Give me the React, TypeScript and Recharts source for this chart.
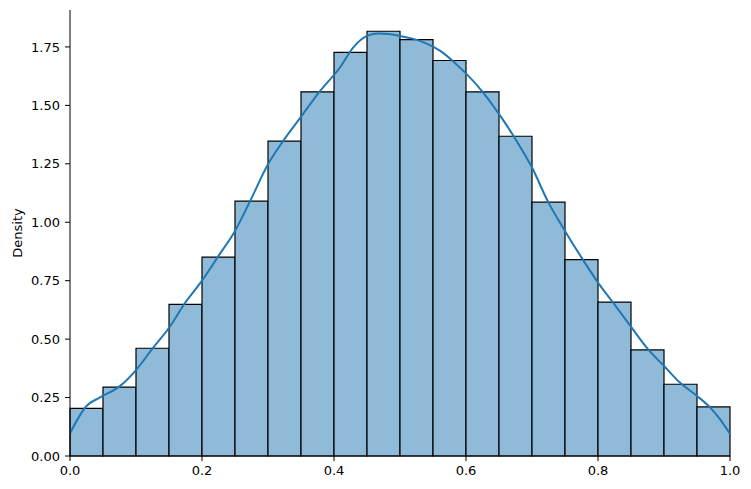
import React from "react";
import { ComposedChart, Line, XAxis, YAxis, ReferenceArea, Label } from "recharts";

// histogram bins (20 bins of width 0.05 on [0, 1])
const binEdges = [
  0, 0.05, 0.1, 0.15, 0.2, 0.25, 0.3, 0.35, 0.4, 0.45, 0.5,
  0.55, 0.6, 0.65, 0.7, 0.75, 0.8, 0.85, 0.9, 0.95, 1.0,
];
const binDensity = [
  0.204, 0.295, 0.461, 0.649, 0.851, 1.09, 1.347, 1.558, 1.727, 1.817,
  1.781, 1.692, 1.558, 1.368, 1.086, 0.84, 0.658, 0.454, 0.307, 0.21,
];

// kde curve
const kdeX = [
  0, 0.025, 0.045, 0.076, 0.101, 0.124, 0.152, 0.172, 0.2, 0.225, 0.25,
  0.273, 0.3, 0.323, 0.351, 0.379, 0.409, 0.429, 0.45, 0.467, 0.5, 0.53,
  0.561, 0.588, 0.626, 0.652, 0.672, 0.7, 0.725, 0.75, 0.775, 0.8, 0.821,
  0.851, 0.876, 0.9, 0.924, 0.95, 0.97, 0.985, 1.0,
];
const kdeY = [
  0.097, 0.214, 0.25, 0.3, 0.371, 0.456, 0.556, 0.645, 0.75, 0.856, 0.963,
  1.091, 1.248, 1.348, 1.455, 1.562, 1.662, 1.747, 1.797, 1.807, 1.797, 1.776,
  1.733, 1.669, 1.555, 1.455, 1.369, 1.234, 1.084, 0.963, 0.849, 0.742, 0.663,
  0.549, 0.456, 0.385, 0.314, 0.257, 0.207, 0.157, 0.095,
];

const xTicks = [0, 0.2, 0.4, 0.6, 0.8, 1.0];
const yTicks = [0, 0.25, 0.5, 0.75, 1.0, 1.25, 1.5, 1.75];

const kdeData = kdeX.map((x, i) => ({ x, y: kdeY[i] }));

const font = { fontFamily: "DejaVu Sans", fontSize: 13, fill: "#000" };

export default function App() {
  return (
    <div style={{ position: "absolute", left: 0, top: 0, background: "#fff" }}>
      <ComposedChart
        width={751}
        height={489}
        data={kdeData}
        margin={{ top: 10, right: 21, left: 0, bottom: 0 }}
      >
        <XAxis
          dataKey="x"
          type="number"
          domain={[0, 1]}
          ticks={xTicks}
          tickFormatter={(v) => Number(v).toFixed(1)}
          tick={font}
          tickSize={5}
          tickMargin={5}
          height={33}
          stroke="#000"
          allowDataOverflow
        />
        <YAxis
          type="number"
          domain={[0, 1.908]}
          ticks={yTicks}
          tickFormatter={(v) => Number(v).toFixed(2)}
          tick={font}
          tickSize={5}
          tickMargin={5}
          width={70}
          stroke="#000"
          allowDataOverflow
        >
          <Label
            value="Density"
            angle={-90}
            position="center"
            dx={-18}
            style={{ fontFamily: "DejaVu Sans", fontSize: 13, fill: "#000" }}
          />
        </YAxis>
        {binDensity.map((d, i) => (
          <ReferenceArea
            key={i}
            x1={binEdges[i]}
            x2={binEdges[i + 1]}
            y1={0}
            y2={d}
            fill="#8fbbd9"
            fillOpacity={1}
            stroke="#000"
            strokeWidth={1.2}
            ifOverflow="visible"
          />
        ))}
        <Line
          type="monotone"
          dataKey="y"
          stroke="#1f77b4"
          strokeWidth={2}
          dot={false}
          isAnimationActive={false}
        />
      </ComposedChart>
    </div>
  );
}
